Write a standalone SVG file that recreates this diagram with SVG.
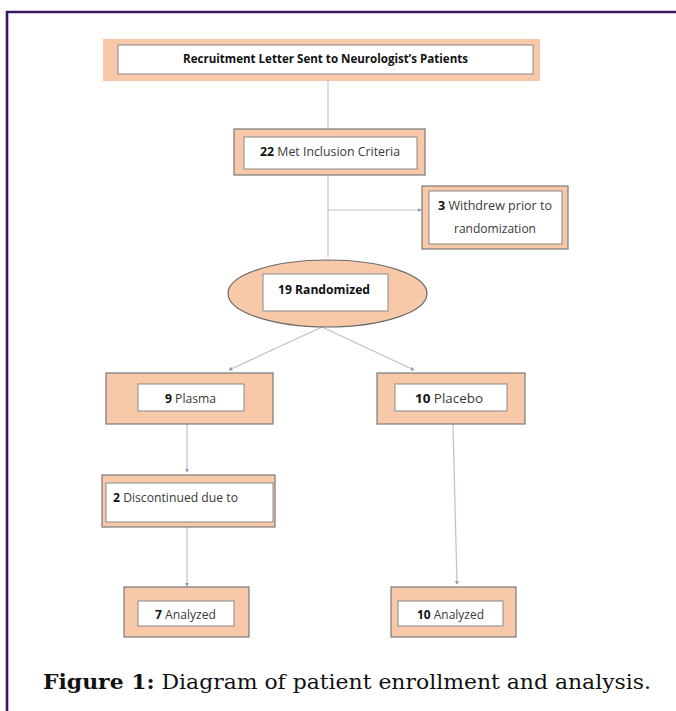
<svg xmlns="http://www.w3.org/2000/svg" width="676" height="711" viewBox="0 0 676 711">
<defs>
<marker id="ah" viewBox="0 0 6 6" refX="5" refY="3" markerWidth="4" markerHeight="4" orient="auto" markerUnits="userSpaceOnUse">
<path d="M0,0 L6,3 L0,6 z" fill="#8a9bb0"/>
</marker>
<style>
.outer{fill:#f8c9a8;stroke:#7a7a7a;stroke-width:1.2}
.outerT{fill:#f8c9a8;stroke:none}
.inner{fill:#ffffff;stroke:#8a8a8a;stroke-width:1}
.t{font-family:"Open Sans","Liberation Sans",sans-serif;font-size:12.5px;fill:#3a3a3a;dominant-baseline:central}
.b{font-weight:bold;fill:#111}
.c{fill:none;stroke:#b8c3cf;stroke-width:1.2}
.cap{font-family:"DejaVu Serif","Liberation Serif",serif;font-size:20px;fill:#111}
</style>
</defs>
<rect x="0" y="0" width="676" height="711" fill="#ffffff"/>
<g id="frame">
<path d="M7,711 L7,12 L676,12" fill="none" stroke="#3b1660" stroke-width="2.6"/>
</g>
<g id="connectors">
<line class="c" x1="328" y1="81" x2="328" y2="129"/>
<line class="c" x1="328" y1="175" x2="328" y2="257"/>
<line class="c" x1="328" y1="210" x2="421" y2="210" marker-end="url(#ah)"/>
<line class="c" x1="322" y1="327" x2="229" y2="370" marker-end="url(#ah)"/>
<line class="c" x1="322" y1="327" x2="414" y2="370" marker-end="url(#ah)"/>
<line class="c" x1="187" y1="424" x2="187" y2="472" marker-end="url(#ah)"/>
<line class="c" x1="187" y1="527" x2="187" y2="586" marker-end="url(#ah)"/>
<line class="c" x1="453" y1="424" x2="457" y2="584" marker-end="url(#ah)"/>
</g>
<g id="recruit">
<rect class="outerT" x="103" y="39" width="437" height="42"/>
<rect class="inner" x="118" y="45" width="415" height="29"/>
<text class="t b" x="183" y="58" textLength="285" lengthAdjust="spacingAndGlyphs">Recruitment Letter Sent to Neurologist’s Patients</text>
</g>
<g id="met">
<rect class="outer" x="234" y="129" width="191" height="46"/>
<rect class="inner" x="244" y="137" width="173" height="32"/>
<text class="t" x="260" y="151" textLength="140" lengthAdjust="spacingAndGlyphs"><tspan class="b">22</tspan> Met Inclusion Criteria</text>
</g>
<g id="withdrew">
<rect class="outer" x="422" y="186" width="146" height="63"/>
<rect class="inner" x="429" y="191" width="133" height="53"/>
<text class="t" x="438" y="205" textLength="114" lengthAdjust="spacingAndGlyphs"><tspan class="b">3</tspan> Withdrew prior to</text>
<text class="t" x="454" y="228" textLength="82" lengthAdjust="spacingAndGlyphs">randomization</text>
</g>
<g id="randomized">
<ellipse cx="327.5" cy="293.5" rx="99.5" ry="33.5" fill="#f8c9a8" stroke="#6a6a6a" stroke-width="1.2"/>
<rect class="inner" x="263" y="274" width="125" height="37"/>
<text class="t b" x="278" y="289" textLength="92" lengthAdjust="spacingAndGlyphs">19 Randomized</text>
</g>
<g id="plasma">
<rect class="outer" x="106" y="373" width="167" height="51"/>
<rect class="inner" x="138" y="384" width="106" height="27"/>
<text class="t" x="165" y="398" textLength="51" lengthAdjust="spacingAndGlyphs"><tspan class="b">9</tspan> Plasma</text>
</g>
<g id="placebo">
<rect class="outer" x="377" y="373" width="148" height="51"/>
<rect class="inner" x="395" y="384" width="112" height="27"/>
<text class="t" x="415" y="398" textLength="68" lengthAdjust="spacingAndGlyphs"><tspan class="b">10</tspan> Placebo</text>
</g>
<g id="discontinued">
<rect class="outer" x="102" y="475" width="173" height="52"/>
<rect class="inner" x="106" y="483" width="167" height="39"/>
<text class="t" x="113" y="497" textLength="125" lengthAdjust="spacingAndGlyphs"><tspan class="b">2</tspan> Discontinued due to</text>
</g>
<g id="analyzed7">
<rect class="outer" x="124" y="587" width="125" height="50"/>
<rect class="inner" x="138" y="601" width="96" height="25"/>
<text class="t" x="155" y="614" textLength="61" lengthAdjust="spacingAndGlyphs"><tspan class="b">7</tspan> Analyzed</text>
</g>
<g id="analyzed10">
<rect class="outer" x="391" y="587" width="125" height="50"/>
<rect class="inner" x="398" y="601" width="105" height="25"/>
<text class="t" x="417" y="614" textLength="67" lengthAdjust="spacingAndGlyphs"><tspan class="b">10</tspan> Analyzed</text>
</g>
<g id="caption">
<text class="cap" x="43" y="689" textLength="608" lengthAdjust="spacingAndGlyphs"><tspan font-weight="bold">Figure 1:</tspan> Diagram of patient enrollment and analysis.</text>
</g>
</svg>
